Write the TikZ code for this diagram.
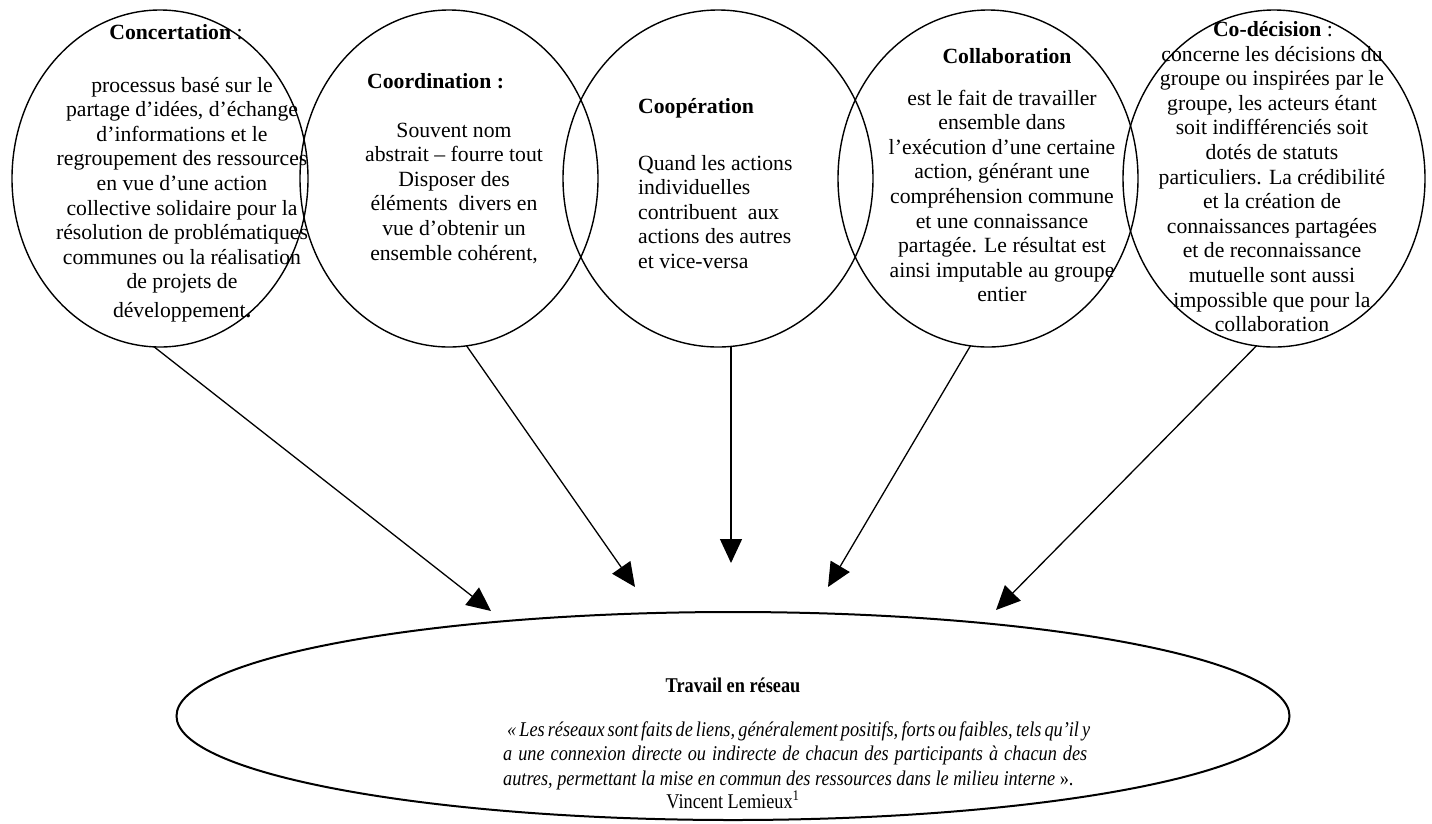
\documentclass[tikz,border=0pt]{standalone}
\usepackage{fontspec}
\setmainfont{Liberation Serif}
\newfontfamily\quotefont[FakeStretch=0.87]{Liberation Serif}
\usetikzlibrary{shapes.geometric,arrows.meta}
\newcommand\cfont{\fontsize{21.7}{24.6}\selectfont}
\newcommand\qfont{\quotefont\fontsize{21}{24.6}\selectfont}
\begin{document}
\begin{tikzpicture}[x=1pt,y=-1pt,
  circ/.style={draw, ellipse, line width=1.4pt, inner sep=0pt, outer sep=0pt, minimum height=337pt},
  txt/.style={anchor=base, inner sep=0pt, font=\cfont},
  qtxt/.style={anchor=base, inner sep=0pt, font=\qfont},
  arr/.style={line width=1.3pt, -{Triangle[length=24pt,width=22pt]}}]
\useasboundingbox (0,0) rectangle (1432,823);
% circles
\node[circ, minimum width=296pt] (c1) at (160,178.5) {};
\node[circ, minimum width=298pt] (c2) at (449,178.5) {};
\node[circ, minimum width=310pt] (c3) at (718,178.5) {};
\node[circ, minimum width=300pt] (c4) at (988,178.5) {};
\node[circ, minimum width=302pt] (c5) at (1274,178.5) {};
% bottom ellipse
\node[draw, ellipse, line width=2pt, inner sep=0pt, outer sep=0pt,
      minimum width=1113pt, minimum height=208pt] (net) at (733,716) {};
% circle 1 text
\node[txt] (h1) at (176,39) {\textbf{Concertation} :};
\node[txt] (b1) at (182,92) {\begin{tabular}[t]{@{}c@{}}
processus basé sur le\\
partage d’idées, d’échange\\
d’informations et le\\
regroupement des ressources\\
en vue d’une action\\
collective solidaire pour la\\
résolution de problématiques\\
communes ou la réalisation\\
de projets de\\[4pt]
développement\textbf{.}\end{tabular}};
% circle 2 text
\node[txt, anchor=base west] (h2) at (367,88) {\textbf{Coordination :}};
\node[txt] (b2) at (454,137) {\begin{tabular}[t]{@{}c@{}}
Souvent nom\\
abstrait – fourre tout\\
Disposer des\\
éléments~ divers en\\
vue d’obtenir un\\
ensemble cohérent,\end{tabular}};
% circle 3 text
\node[txt, anchor=base west] (h3) at (638,113) {\textbf{Coopération}};
\node[txt, anchor=base west] (b3) at (638,170) {\begin{tabular}[t]{@{}l@{}}
Quand les actions\\
individuelles\\
contribuent~ aux\\
actions des autres\\
et vice-versa\end{tabular}};
% circle 4 text
\node[txt] (h4) at (1007,63) {\textbf{Collaboration}};
\node[txt] (b4) at (1002,105) {\begin{tabular}[t]{@{}c@{}}
est le fait de travailler\\
ensemble dans\\
l’exécution d’une certaine\\
action, générant une\\
compréhension commune\\
et une connaissance\\
partagée. Le résultat est\\
ainsi imputable au groupe\\
entier\end{tabular}};
% circle 5 text
\node[txt] (h5) at (1273,36) {\textbf{Co-décision} :};
\node[txt] (b5) at (1272,61) {\begin{tabular}[t]{@{}c@{}}
concerne les décisions du\\
groupe ou inspirées par le\\
groupe, les acteurs étant\\
soit indifférenciés soit\\
dotés de statuts\\
particuliers. La crédibilité\\
et la création de\\
connaissances partagées\\
et de reconnaissance\\
mutuelle sont aussi\\
impossible que pour la\\
collaboration\end{tabular}};
% bottom text
\node[qtxt] (hn) at (733,692) {\textbf{Travail en réseau}};
\node[qtxt, anchor=base west] (qn) at (503,736) {\itshape\begin{tabular}[t]{@{}l@{}}
\makebox[584pt][s]{\hspace*{4pt}« Les réseaux sont faits de liens, généralement positifs, forts ou faibles, tels qu’il y}\\
\makebox[584pt][s]{a une connexion directe ou indirecte de chacun des participants à chacun des}\\
autres, permettant la mise en commun des ressources dans le milieu interne \upshape».\end{tabular}};
\node[qtxt] (vl) at (733,808) {Vincent Lemieux\textsuperscript{1}};
% arrow tips
\coordinate (t1) at (491,611);
\coordinate (t2) at (635,587);
\coordinate (t3) at (731,563);
\coordinate (t4) at (828,587);
\coordinate (t5) at (996,610);
\draw[arr] (c1.-92) -- (t1);
\draw[arr] (c2.-84) -- (t2);
\draw[arr] (t3 |- c3.south) -- (t3);
\draw[arr] (c4.-96) -- (t4);
\draw[arr] (c5.-96) -- (t5);
\end{tikzpicture}
\end{document}
